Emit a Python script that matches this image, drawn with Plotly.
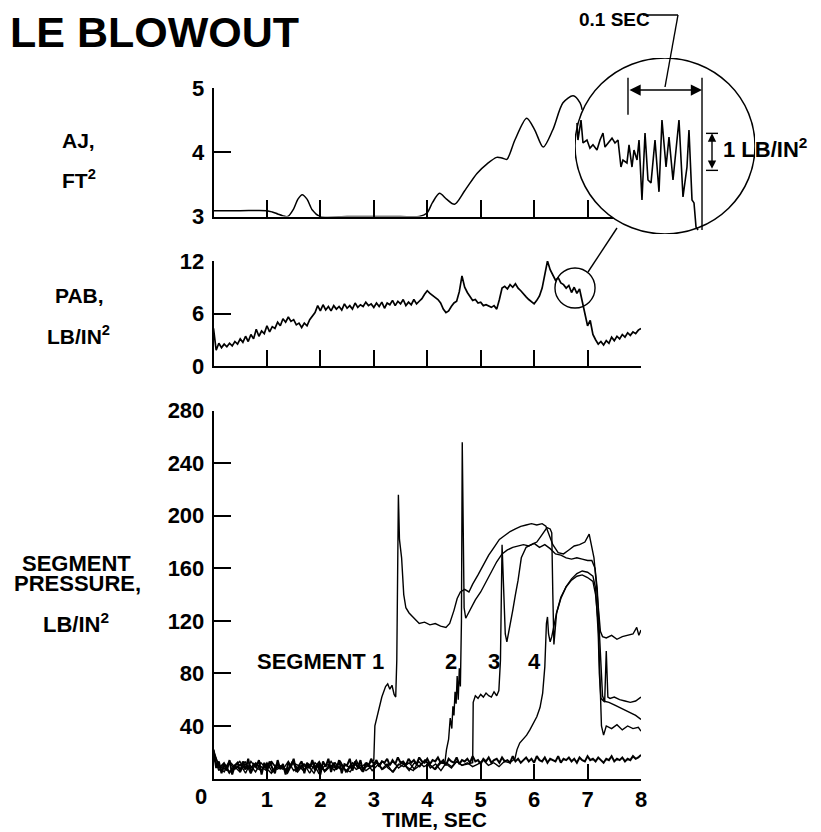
import numpy as np
import plotly.graph_objects as go

W, H = 821, 832
FONT = "Liberation Sans, Arial, Helvetica, sans-serif"
BLACK = "black"

# ===================== DATA =====================
# Top panel: AJ, ft^2 versus time, s
aj_time = [0, 0.5, 1.0, 1.1, 1.2, 1.3, 1.39, 1.5, 1.58, 1.66, 1.75, 1.85, 1.99, 2.5, 3.0,
           3.5, 3.85, 3.99, 4.1, 4.23, 4.36, 4.51, 4.7, 4.93, 5.12, 5.3, 5.4, 5.49, 5.64,
           5.86, 6.01, 6.17, 6.35, 6.54, 6.73, 6.86, 6.9]
aj_ft2 = [3.09, 3.09, 3.09, 3.07, 3.04, 3.01, 3.0, 3.12, 3.27, 3.34, 3.27, 3.1, 3.0, 3.0, 3.0,
          3.0, 3.0, 3.05, 3.22, 3.36, 3.27, 3.19, 3.4, 3.67, 3.82, 3.92, 3.91, 3.89, 4.19,
          4.53, 4.35, 4.08, 4.35, 4.77, 4.88, 4.77, 4.66]

# Middle panel: PAB, lb/in^2, sampled every 0.05 s from 0 to 8 s
pab_step = 0.05
pab_psi = [4.3, 1.8, 2.6, 2.1, 2.5, 2.2, 2.6, 2.3, 2.8, 2.5, 3.1, 2.7, 3.4, 2.8, 3.6, 3.1, 4.2, 3.4, 4.0, 3.7,
           4.6, 3.9, 4.5, 4.3, 5.0, 4.6, 5.4, 5.0, 5.6, 5.1, 5.3, 4.7, 4.9, 4.4, 4.9, 4.6, 5.3, 5.7, 6.1, 6.9,
           6.3, 7.0, 6.4, 6.8, 6.3, 6.9, 6.5, 6.8, 6.4, 7.1, 6.6, 6.9, 6.5, 7.2, 6.7, 7.0, 6.8, 7.3, 6.9, 7.1,
           6.7, 7.2, 6.8, 7.3, 6.6, 7.2, 7.0, 7.5, 6.9, 7.4, 7.1, 7.6, 6.9, 7.3, 7.0, 7.6, 7.1, 7.4, 7.7, 8.2,
           8.6, 8.3, 8.1, 7.9, 7.6, 7.2, 6.5, 6.1, 6.3, 6.8, 7.2, 7.4, 8.5, 10.3, 9.0, 8.4, 8.0, 7.5, 7.6, 7.2,
           7.3, 6.9, 7.0, 6.8, 6.7, 6.9, 6.5, 7.6, 8.9, 9.1, 8.8, 9.3, 9.0, 9.4, 8.9, 8.6, 8.2, 7.9, 7.6, 7.4,
           7.1, 7.5, 8.0, 8.9, 10.4, 12.0, 11.0, 10.3, 9.8, 10.1, 9.5, 9.3, 8.9, 9.2, 8.4, 9.0, 8.3, 8.8, 7.3, 5.8,
           4.6, 5.2, 3.6, 3.0, 2.5, 2.8, 2.4, 2.9, 2.6, 3.3, 2.9, 3.4, 3.1, 3.6, 3.3, 3.8, 3.5, 3.9, 3.7, 4.1,
           4.3]

# Bottom panel: segment pressures, lb/in^2
# noisy baseline before each segment lights (evenly spaced from t=0 up to its rise time)
seg1_base = [22, 9, 5, 12, 7, 11, 4, 13, 8, 6, 12, 5, 10, 7, 13, 6, 9, 11, 4, 12, 8, 6, 13, 7, 10, 5, 12, 9, 6, 11]
seg1_time = [3.00, 3.02, 3.08, 3.15, 3.22, 3.26, 3.30, 3.34, 3.38, 3.41, 3.43, 3.46, 3.48, 3.52, 3.56,
             3.60, 3.66, 3.75, 3.85, 3.95, 4.05, 4.15, 4.25, 4.35, 4.42, 4.50, 4.56, 4.62, 4.70, 4.78,
             4.85, 4.95, 5.05, 5.15, 5.25, 5.35, 5.45, 5.55, 5.65, 5.75, 5.85, 5.95, 6.05, 6.15, 6.22,
             6.28, 6.35, 6.45, 6.55, 6.65, 6.75, 6.85, 6.95, 7.03, 7.07, 7.12, 7.16, 7.20, 7.24, 7.28,
             7.35, 7.45, 7.55, 7.65, 7.75, 7.85, 7.92, 7.96, 8.00]
seg1_psi = [14, 40, 50, 62, 70, 72, 68, 71, 64, 62, 90, 216, 182, 168, 140,
            130, 126, 122, 118, 119, 117, 118, 116, 115, 118, 128, 137, 142, 144, 142,
            148, 155, 163, 170, 176, 182, 185, 188, 190, 192, 193, 194, 193, 194, 192,
            186, 178, 172, 171, 174, 177, 178, 180, 186, 178, 168, 150, 128, 112, 108,
            107, 109, 106, 108, 109, 110, 115, 109, 113]

seg2_base = [18, 6, 11, 4, 9, 13, 7, 10, 5, 12, 8, 4, 11, 9, 6, 13, 5, 10, 8, 12, 4, 9, 11, 6, 13, 7,
             5, 12, 10, 6, 9, 13, 7, 11, 5, 10, 12, 8, 6, 13, 9, 11, 7, 12]
seg2_time = [4.33, 4.36, 4.40, 4.43, 4.46, 4.48, 4.50, 4.52, 4.54, 4.56, 4.58, 4.60, 4.62, 4.64, 4.655,
             4.67, 4.69, 4.72, 4.76, 4.82, 4.90, 5.00, 5.10, 5.20, 5.30, 5.40, 5.50, 5.60, 5.70, 5.80,
             5.90, 6.00, 6.10, 6.20, 6.30, 6.40, 6.50, 6.60, 6.70, 6.80, 6.90, 7.00, 7.08, 7.14, 7.18,
             7.22, 7.25, 7.28, 7.32, 7.35, 7.38, 7.42, 7.50, 7.60, 7.70, 7.80, 7.90, 8.00]
seg2_psi = [12, 22, 30, 46, 38, 55, 48, 66, 57, 78, 60, 84, 70, 120, 256,
            170, 130, 122, 125, 130, 136, 142, 150, 157, 165, 171, 174, 176, 177, 178,
            177, 179, 176, 178, 175, 171, 170, 168, 167, 168, 167, 166, 166, 160, 145,
            115, 85, 63, 58, 97, 62, 61, 62, 60, 59, 58, 59, 62]

seg3_base = [15, 8, 12, 5, 10, 7, 13, 4, 11, 9, 6, 12, 8, 10, 5, 13, 7, 11, 9, 4, 12, 6, 10, 8, 13,
             5, 11, 7, 9, 12, 6, 10, 13, 8, 5, 11, 9, 12, 7, 10, 14, 8, 11, 6, 12, 9, 13, 10, 11]
seg3_time = [4.85, 4.86, 4.90, 4.95, 5.00, 5.05, 5.10, 5.15, 5.20, 5.25, 5.30, 5.34, 5.37, 5.40, 5.43,
             5.46, 5.49, 5.53, 5.60, 5.65, 5.70, 5.76, 5.85, 5.95, 6.05, 6.12, 6.18, 6.24, 6.30, 6.33,
             6.35, 6.37, 6.42, 6.50, 6.60, 6.70, 6.80, 6.90, 7.00, 7.10, 7.15, 7.20, 7.22, 7.25, 7.30,
             7.40, 7.50, 7.60, 7.70, 7.80, 7.90, 8.00]
seg3_psi = [12, 58, 63, 61, 64, 62, 65, 63, 62, 66, 63, 67, 90, 178, 150,
            110, 104, 112, 128, 140, 151, 168, 176, 178, 180, 184, 188, 191, 190, 187,
            140, 102, 126, 138, 146, 152, 156, 158, 157, 154, 145, 110, 80, 61, 59,
            58, 56, 54, 52, 50, 48, 45]

seg4_base = [20, 10, 7, 13, 9, 5, 11, 8, 12, 6, 10, 13, 7, 9, 4, 12, 10, 6, 11, 8, 13, 5, 9, 12, 7,
             10, 8, 14, 6, 11, 9, 12, 7, 10, 13, 8, 11, 6, 12, 9, 14, 10, 7, 12, 11, 8, 13, 10, 12,
             9, 11, 14, 10, 12, 9, 13, 12]
seg4_time = [5.64, 5.68, 5.73, 5.80, 5.86, 5.92, 5.98, 6.05, 6.11, 6.16, 6.20, 6.23, 6.25, 6.27, 6.30,
             6.33, 6.37, 6.42, 6.50, 6.60, 6.70, 6.80, 6.90, 7.00, 7.10, 7.15, 7.20, 7.23, 7.26, 7.30,
             7.35, 7.45, 7.55, 7.65, 7.75, 7.85, 7.95, 8.00]
seg4_psi = [15, 22, 27, 30, 33, 37, 42, 47, 54, 65, 85, 118, 123, 110, 104,
            108, 116, 126, 137, 146, 151, 154, 155, 153, 150, 140, 118, 85, 40, 33,
            40, 38, 41, 37, 40, 38, 39, 36]

# trace that stays near the baseline for the whole run (every 0.05 s)
unlit_step = 0.05
unlit_psi = [22, 8, 13, 4, 11, 6, 14, 3, 10, 12, 5, 13, 7, 15, 4, 11, 9, 14, 3, 12,
             6, 13, 8, 4, 14, 7, 11, 3, 12, 9, 15, 5, 10, 13, 4, 12, 8, 14, 6, 11,
             3, 13, 9, 15, 5, 12, 7, 14, 4, 11, 10, 15, 6, 13, 8, 14, 5, 12, 9, 15,
             11, 14, 9, 13, 12, 15, 10, 14, 11, 16, 12, 13, 10, 15, 12, 14, 11, 16, 13, 12,
             15, 11, 14, 13, 16, 12, 14, 10, 15, 13, 12, 16, 11, 14, 13, 15, 12, 17, 13, 14,
             11, 15, 13, 16, 12, 14, 15, 12, 16, 13, 14, 12, 17, 13, 15, 12, 14, 16, 13, 15,
             12, 17, 14, 13, 16, 12, 15, 14, 13, 17, 12, 15, 14, 16, 13, 15, 12, 16, 14, 13,
             17, 14, 15, 13, 16, 14, 12, 15, 14, 17, 13, 15, 14, 16, 13, 15, 14, 17, 15, 16,
             18]

# Inset (magnified PAB): time in ms relative to start of the 0.1 s bracket, pressure in lb/in^2
inset_ms = [-68.9, -67.6, -63.5, -60.8, -55.4, -51.4, -47.3, -41.9, -37.8, -33.8, -31.1, -27.0,
            -21.6, -17.6, -13.5, -9.5, -6.8, -1.4, 1.4, 5.4, 8.1, 12.2, 14.9, 18.9, 23.0, 27.0,
            31.1, 36.5, 41.9, 45.9, 51.4, 55.4, 60.8, 66.2, 68.9, 74.3, 79.7, 82.4, 86.5, 89.2,
            91.9, 94.6]
inset_psi = [3.00, 2.54, 3.08, 2.46, 2.54, 2.32, 2.41, 2.27, 2.54, 2.73, 2.35, 2.46,
             2.59, 2.46, 2.54, 1.81, 2.00, 1.92, 2.41, 1.81, 2.27, 2.00, 2.54, 0.92, 2.73, 1.46,
             1.38, 2.54, 1.14, 3.08, 1.81, 2.62, 1.46, 2.54, 3.08, 1.00, 1.81, 2.81, 0.92, 0.84,
             0.19, 0.11]

x_tick_vals = [1, 2, 3, 4, 5, 6, 7, 8]
x_tick_text = ["1", "2", "3", "4", "5", "6", "7", "8"]
aj_ticks = [3, 4, 5]
pab_ticks = [0, 6, 12]
seg_ticks = [40, 80, 120, 160, 200, 240, 280]
seg_labels = [("SEGMENT 1", 2.0, 89), ("2", 4.44, 89), ("3", 5.25, 89), ("4", 6.0, 89)]

# ===================== FIGURE =====================
# The page places the figure 8 px in from the top-left corner of the window,
# so positions measured on the picture are shifted by that amount.
OFF = 8


def fx(px):
    return (px - OFF) / W


def fy(py):
    return 1 - (py - OFF) / H


def seg_series(base, t, v):
    tb = list(np.linspace(0, t[0], len(base), endpoint=False))
    return tb + list(t), list(base) + list(v)


fig = go.Figure()
LW = 1.4

# bottom panel (x, y)
ut = [i * unlit_step for i in range(len(unlit_psi))]
fig.add_trace(go.Scatter(x=ut, y=unlit_psi, mode="lines", line=dict(color=BLACK, width=2.0),
                         xaxis="x", yaxis="y", hoverinfo="skip"))
for base, t, v in [(seg1_base, seg1_time, seg1_psi), (seg2_base, seg2_time, seg2_psi),
                   (seg3_base, seg3_time, seg3_psi), (seg4_base, seg4_time, seg4_psi)]:
    xs, ys = seg_series(base, t, v)
    fig.add_trace(go.Scatter(x=xs, y=ys, mode="lines", line=dict(color=BLACK, width=LW),
                             xaxis="x", yaxis="y", hoverinfo="skip"))

# middle panel (x2, y2)
pt = [i * pab_step for i in range(len(pab_psi))]
fig.add_trace(go.Scatter(x=pt, y=pab_psi, mode="lines", line=dict(color=BLACK, width=1.7),
                         xaxis="x2", yaxis="y2", hoverinfo="skip"))

# top panel (x3, y3)
fig.add_trace(go.Scatter(x=aj_time, y=aj_ft2, mode="lines",
                         line=dict(color=BLACK, width=1.5, shape="spline", smoothing=0.8),
                         xaxis="x3", yaxis="y3", hoverinfo="skip"))

# inset (x4, y4)
fig.add_trace(go.Scatter(x=inset_ms, y=inset_psi, mode="lines", line=dict(color=BLACK, width=1.6),
                         xaxis="x4", yaxis="y4", hoverinfo="skip"))

X0P, X8P = 213.5, 641.0
tickfont = dict(family=FONT, size=22, color=BLACK, weight="bold")
common_x = dict(range=[0, 8], domain=[fx(X0P), fx(X8P)], showline=True, linecolor=BLACK,
                linewidth=1.5, ticks="inside", tickcolor=BLACK, tickwidth=1.5, showgrid=False,
                zeroline=False, tickmode="array", tickvals=x_tick_vals, fixedrange=True,
                automargin=False)
common_y = dict(showline=True, linecolor=BLACK, linewidth=1.5, ticks="inside", ticklen=18,
                tickwidth=1.5, tickcolor=BLACK, showgrid=False, zeroline=False, tickfont=tickfont,
                ticklabelstandoff=3, tickmode="array", fixedrange=True, automargin=False)

fig.update_layout(
    template="none",
    width=W, height=H, margin=dict(l=0, r=0, t=0, b=0, pad=0, autoexpand=False),
    paper_bgcolor="white", plot_bgcolor="rgba(0,0,0,0)", showlegend=False,
    font=dict(family=FONT, color=BLACK),
    xaxis=dict(**common_x, anchor="y", ticklen=15, showticklabels=True, ticktext=x_tick_text,
               tickfont=tickfont, ticklabelstandoff=0),
    yaxis=dict(**common_y, anchor="x", domain=[fy(778.5), fy(410.7)], range=[0, 280],
               tickvals=seg_ticks),
    xaxis2=dict(**common_x, anchor="y2", ticklen=16, showticklabels=False),
    yaxis2=dict(**common_y, anchor="x2", domain=[fy(366), fy(261)], range=[0, 12],
                tickvals=pab_ticks),
    xaxis3=dict(**common_x, anchor="y3", ticklen=17, showticklabels=False),
    yaxis3=dict(**common_y, anchor="x3", domain=[fy(216.5), fy(88)], range=[3, 5],
                tickvals=aj_ticks),
    xaxis4=dict(domain=[fx(575), fx(755)], range=[-71.6, 171.6], visible=False, anchor="y4",
                fixedrange=True, automargin=False),
    yaxis4=dict(domain=[fy(234), fy(58)], range=[0, 176 / 37], visible=False, anchor="x4",
                fixedrange=True, automargin=False),
)

shapes = [
    # magnifier circle (white, covers the panels behind it)
    dict(type="circle", xref="x4", yref="y4", x0=-71.6, x1=171.6, y0=0, y1=176 / 37,
         fillcolor="white", line=dict(color=BLACK, width=1.5), layer="below"),
    # small circle on PAB trace
    dict(type="circle", xref="x2", yref="y2", x0=6.39, x1=7.14, y0=6.63, y1=11.2,
         line=dict(color=BLACK, width=1.4), layer="above"),
    # leader from small circle to magnifier
    dict(type="line", xref="paper", yref="paper", x0=fx(588), y0=fy(272), x1=fx(617), y1=fy(228),
         line=dict(color=BLACK, width=1.4), layer="above"),
    # 0.1 SEC leader
    dict(type="line", xref="paper", yref="paper", x0=fx(643), y0=fy(15), x1=fx(678), y1=fy(15),
         line=dict(color=BLACK, width=1.4), layer="above"),
    dict(type="line", xref="paper", yref="paper", x0=fx(678), y0=fy(15), x1=fx(665), y1=fy(87),
         line=dict(color=BLACK, width=1.4), layer="above"),
    # bracket verticals
    dict(type="line", xref="x4", yref="y4", x0=0, x1=0, y0=3.22, y1=4.22,
         line=dict(color=BLACK, width=1.4), layer="above"),
    dict(type="line", xref="x4", yref="y4", x0=100, x1=100, y0=0.11, y1=4.22,
         line=dict(color=BLACK, width=1.4), layer="above"),
    # 1 lb/in^2 caps
    dict(type="line", xref="x4", yref="y4", x0=105.4, x1=121.6, y0=2.72, y1=2.72,
         line=dict(color=BLACK, width=1.4), layer="above"),
    dict(type="line", xref="x4", yref="y4", x0=105.4, x1=121.6, y0=1.72, y1=1.72,
         line=dict(color=BLACK, width=1.4), layer="above"),
]
fig.update_layout(shapes=shapes)


def label(text, px, py, size=22, xanchor="center"):
    return dict(text="<b>" + text + "</b>", x=fx(px), y=fy(py), xref="paper", yref="paper",
                showarrow=False, xanchor=xanchor, yanchor="middle",
                font=dict(family=FONT, size=size, color=BLACK))


ann = [
    label("LE BLOWOUT", OFF, 32, size=43, xanchor="left"),
    label("AJ,", 78, 141, size=21),
    label("FT<sup>2</sup>", 79, 179, size=21),
    label("PAB,", 79, 295, size=21),
    label("LB/IN<sup>2</sup>", 78, 335, size=21),
    label("SEGMENT", 76, 563),
    label("PRESSURE,", 77, 583),
    label("LB/IN<sup>2</sup>", 76, 623),
    label("0", 201, 796),
    label("TIME, SEC", 434, 819, size=21),
    label("0.1 SEC", 577, 20, size=19, xanchor="left"),
    label("1 LB/IN<sup>2</sup>", 721, 148, size=22, xanchor="left"),
]
for txt, t, v in seg_labels:
    ann.append(dict(text="<b>" + txt + "</b>", x=t, y=v, xref="x", yref="y", showarrow=False,
                    xanchor="center", yanchor="middle",
                    font=dict(family=FONT, size=22, color=BLACK)))
# double-headed arrows in the inset
ann.append(dict(text="", x=100, y=3.89, ax=0, ay=3.89, xref="x4", yref="y4", axref="x4", ayref="y4",
                showarrow=True, arrowhead=2, startarrowhead=2, arrowside="end+start",
                arrowsize=1.6, startarrowsize=1.6, arrowwidth=1.4, arrowcolor=BLACK, standoff=0,
                startstandoff=0))
ann.append(dict(text="", x=113.5, y=2.72, ax=113.5, ay=1.72, xref="x4", yref="y4", axref="x4",
                ayref="y4", showarrow=True, arrowhead=2, startarrowhead=2, arrowside="end+start",
                arrowsize=1.2, startarrowsize=1.2, arrowwidth=1.4, arrowcolor=BLACK, standoff=0,
                startstandoff=0))
fig.update_layout(annotations=ann)

fig.write_html("out.html")
